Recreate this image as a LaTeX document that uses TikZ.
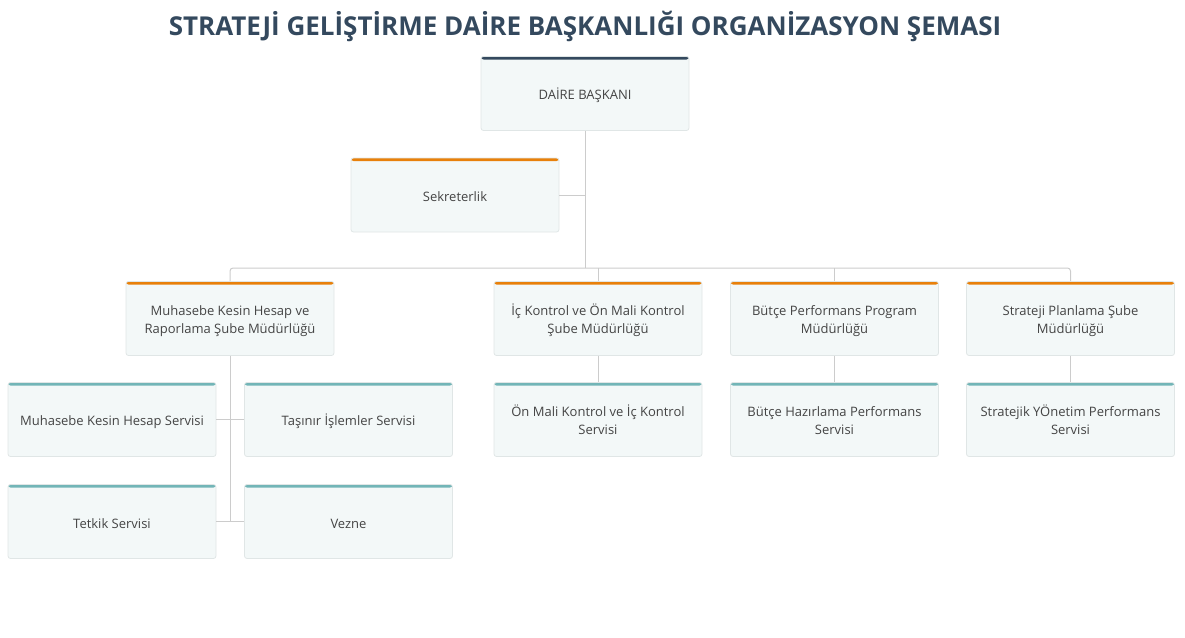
\documentclass[tikz,border=0pt]{standalone}
\usepackage{fontspec}
\setmainfont{Open Sans}
\usepackage{xcolor}
\usetikzlibrary{positioning, calc}

\definecolor{boxfill}{HTML}{F3F8F8}
\definecolor{boxline}{HTML}{E0E6E6}
\definecolor{linegray}{HTML}{CCCCCC}
\definecolor{textgray}{HTML}{444444}
\definecolor{navybar}{HTML}{34495E}
\definecolor{orangebar}{HTML}{E8800A}
\definecolor{tealbar}{HTML}{72B5B7}

\begin{document}
\begin{tikzpicture}[
    x=1pt, y=-1pt,
    font=\fontsize{13}{18}\selectfont,
    basenode/.style={rectangle, rounded corners=2.5pt, draw=boxline, fill=boxfill, line width=0.8pt, text=textgray, align=center, minimum width=208pt, minimum height=74pt, inner sep=0pt,
      execute at begin node={\rule{0pt}{15.5pt}}, execute at end node={\rule[-2.5pt]{0pt}{2.5pt}}},
    twoline/.style={text height=32pt, text depth=2pt},
    topbar/.style={path picture={\fill[#1] (path picture bounding box.north west) rectangle ([yshift=-3pt]path picture bounding box.north east);}},
    headnode/.style={basenode, topbar=navybar},
    branchnode/.style={basenode, topbar=orangebar},
    servicenode/.style={basenode, topbar=tealbar},
    link/.style={draw=linegray, line width=1pt}
  ]
  \useasboundingbox (0,0) rectangle (1185,637);

  % Title
  \node[text=navybar, font=\fontsize{26}{30}\selectfont\bfseries] (title) at (585,26) {STRATEJİ GELİŞTİRME DAİRE BAŞKANLIĞI ORGANİZASYON ŞEMASI};

  % Top nodes
  \node[headnode] (daire) at (585,93.5) {DAİRE BAŞKANI};
  \node[branchnode] (sek) at (455,195) {Sekreterlik};

  % Branch nodes
  \node[branchnode, twoline] (muh) at (230,318.5) {Muhasebe Kesin Hesap ve\\Raporlama Şube Müdürlüğü};
  \node[branchnode, twoline] (ick) at (598,318.5) {İç Kontrol ve Ön Mali Kontrol\\Şube Müdürlüğü};
  \node[branchnode, twoline] (bpm) at (834.5,318.5) {Bütçe Performans Program\\Müdürlüğü};
  \node[branchnode, twoline] (stp) at (1070.5,318.5) {Strateji Planlama Şube\\Müdürlüğü};

  % Service nodes
  \node[servicenode] (mks) at (112,419.5) {Muhasebe Kesin Hesap Servisi};
  \node[servicenode] (tas) at (348.5,419.5) {Taşınır İşlemler Servisi};
  \node[servicenode] (tet) at (112,521.5) {Tetkik Servisi};
  \node[servicenode] (vez) at (348.5,521.5) {Vezne};
  \node[servicenode, twoline] (omk) at (598,419.5) {Ön Mali Kontrol ve İç Kontrol\\Servisi};
  \node[servicenode, twoline] (bhp) at (834.5,419.5) {Bütçe Hazırlama Performans\\Servisi};
  \node[servicenode, twoline] (syp) at (1070.5,419.5) {Stratejik YÖnetim Performans\\Servisi};

  % Connectors
  \coordinate (bus) at (585,268);
  \draw[link] (daire.south) -- (bus);
  \draw[link] (sek.east) -- (sek.east -| daire.south);
  \draw[link, rounded corners=3pt] (muh.north) |- (bus) -| (stp.north);
  \draw[link] (ick.north) -- (ick.north |- bus);
  \draw[link] (bpm.north) -- (bpm.north |- bus);

  \draw[link] (muh.south) -- (muh.south |- tet.east);
  \draw[link] (mks.east) -- (tas.west);
  \draw[link] (tet.east) -- (vez.west);
  \draw[link] (ick) -- (omk);
  \draw[link] (bpm) -- (bhp);
  \draw[link] (stp) -- (syp);

\end{tikzpicture}
\end{document}
